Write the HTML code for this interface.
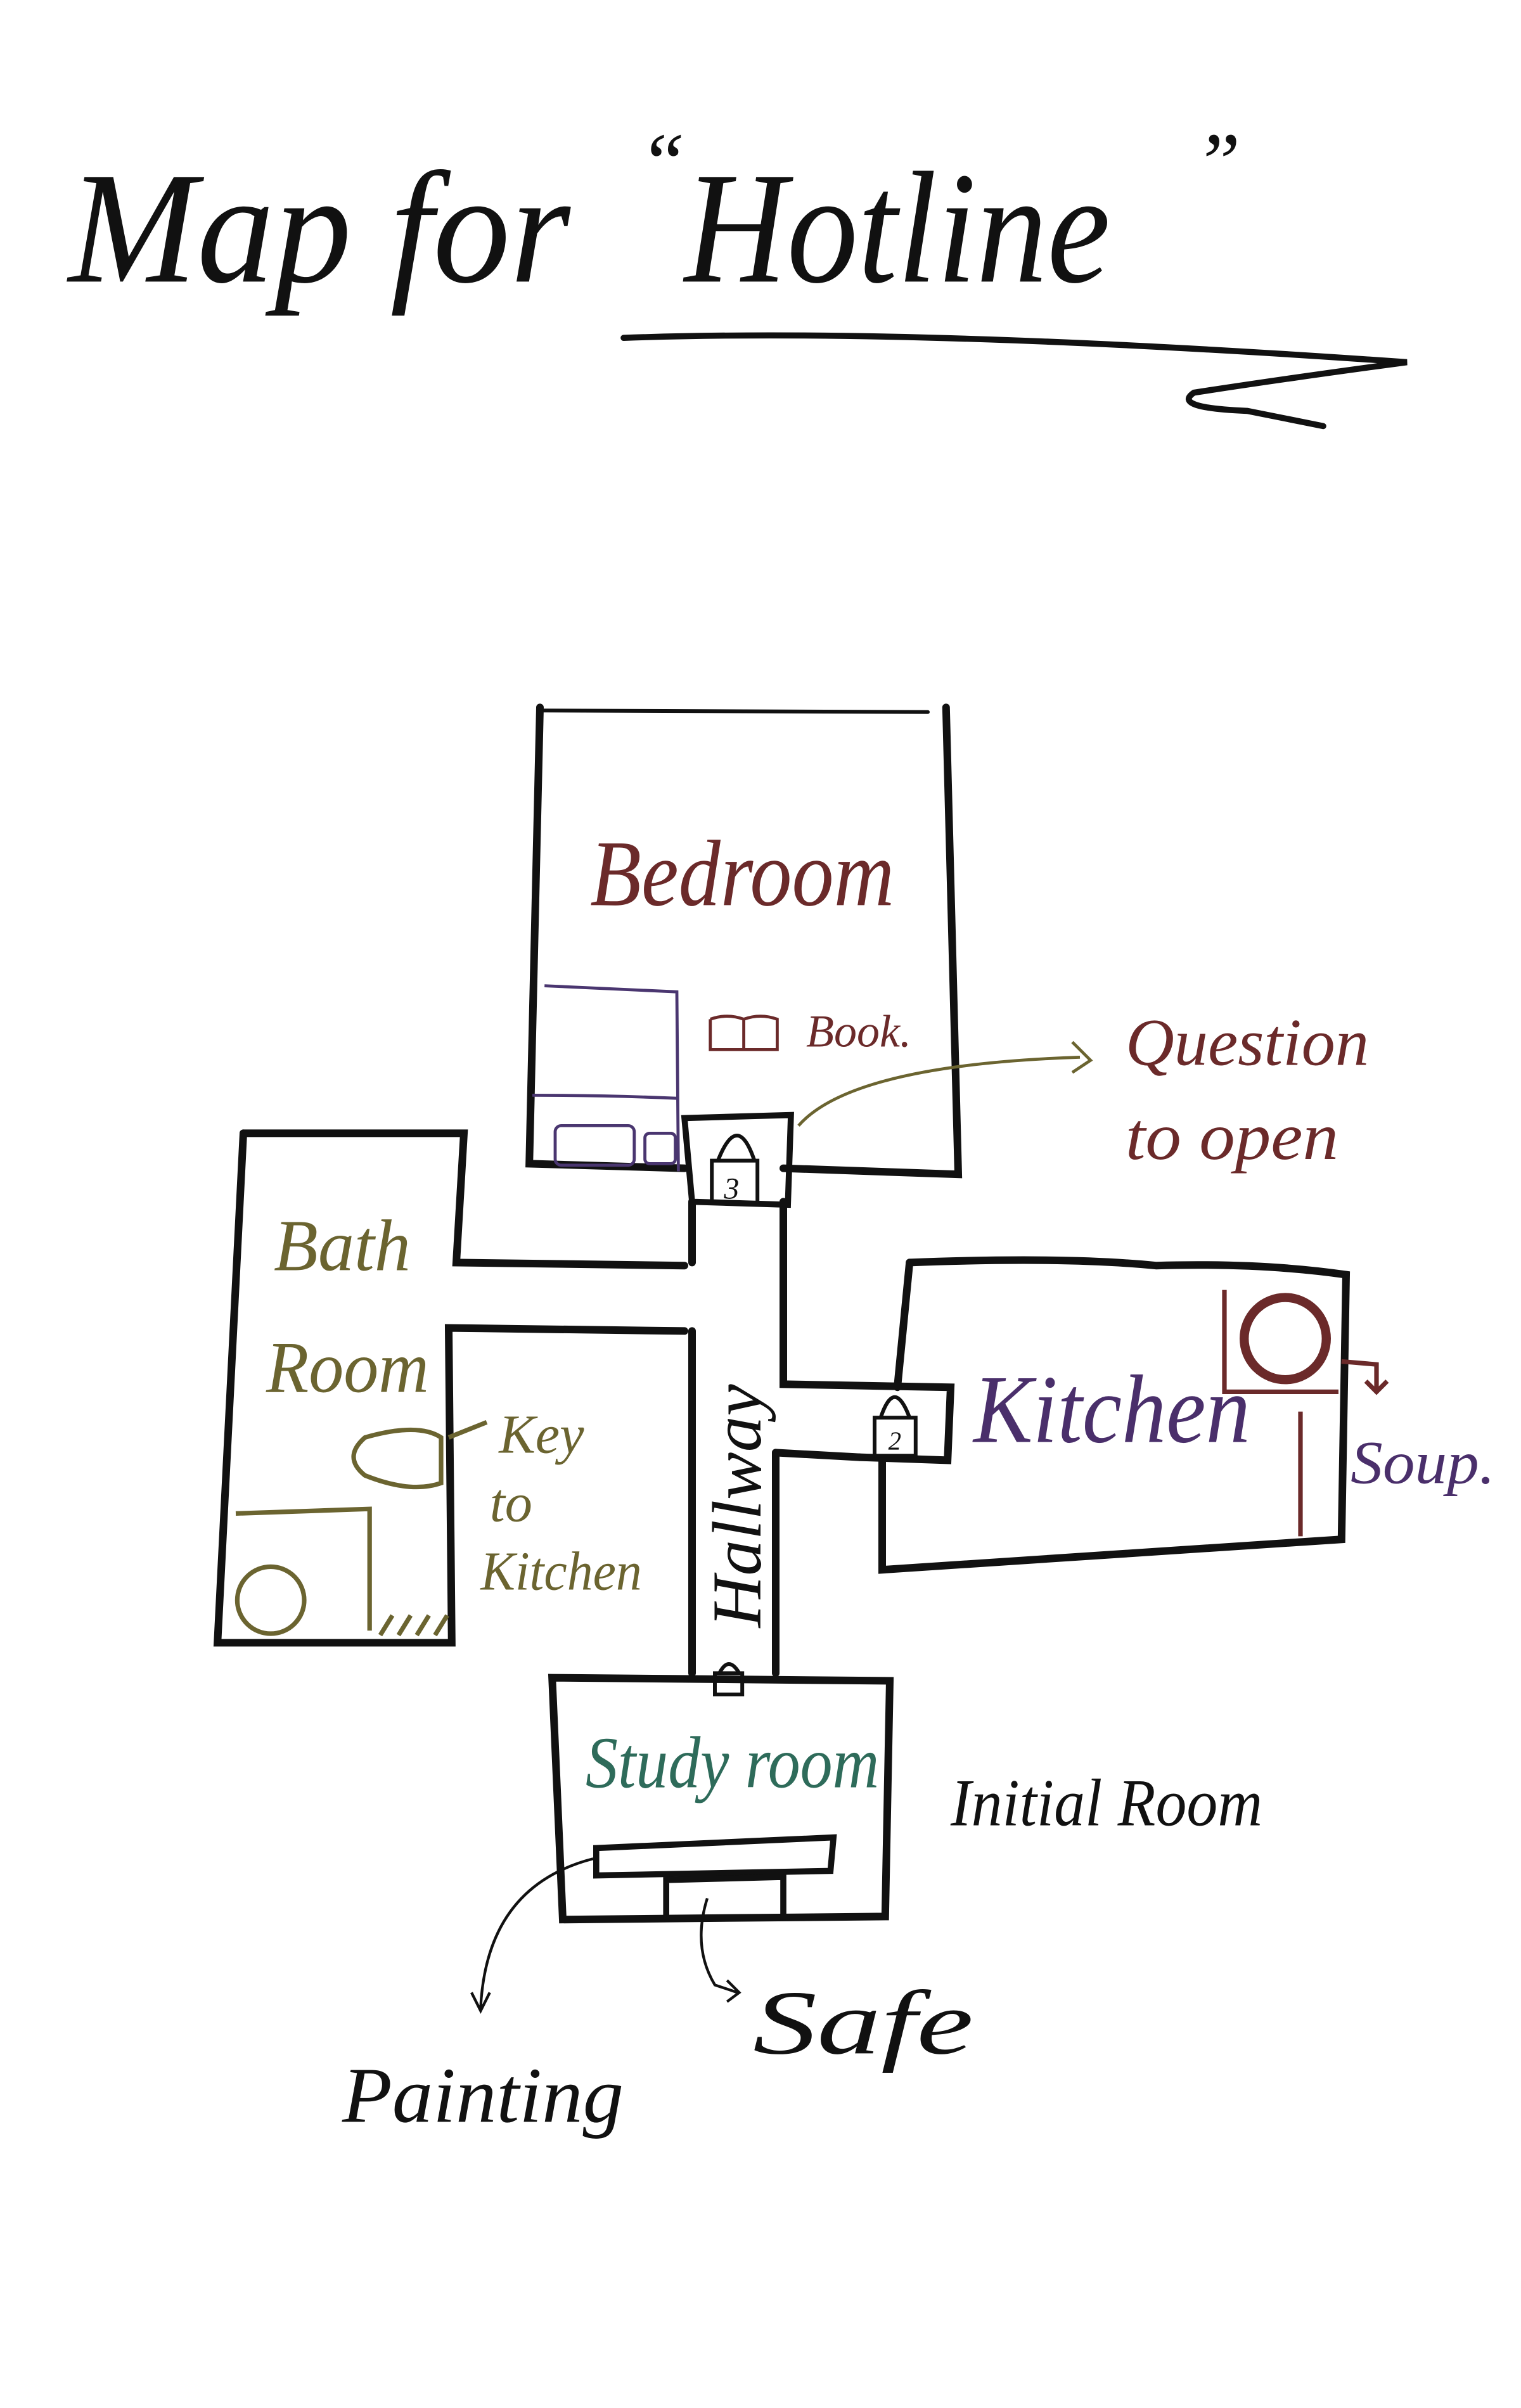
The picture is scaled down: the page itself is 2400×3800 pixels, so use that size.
<!DOCTYPE html>
<html><head><meta charset="utf-8"><style>
html,body{margin:0;padding:0;background:#fff;}
svg{display:block}
text{font-family:"Liberation Serif",serif;font-style:italic}
</style></head><body>
<svg width="2400" height="3800" viewBox="0 0 1000 1583" xmlns="http://www.w3.org/2000/svg">
<rect width="1000" height="1583" fill="#fff"/>
<!-- Title -->
<text x="45" y="185" font-size="105" fill="#111" textLength="330" lengthAdjust="spacingAndGlyphs">Map for</text>
<text x="420" y="125" font-size="55" fill="#111">“</text>
<text x="450" y="185" font-size="105" fill="#111" textLength="280" lengthAdjust="spacingAndGlyphs">Hotline</text>
<text x="785" y="125" font-size="55" fill="#111">”</text>
<path d="M410 222 Q600 215 925 238 Q850 248 785 258 Q770 268 820 270 L870 280" fill="none" stroke="#111" stroke-width="4" stroke-linecap="round"/>

<g fill="none" stroke="#111" stroke-width="5" stroke-linecap="round">
<path d="M357 467 L610 468" stroke-width="2.5"/>
<path d="M355 465 L348 765 L450 768"/>
<path d="M622 465 L630 772 L515 768"/>
<path d="M450 735 L520 733 L518 792 L455 790 Z" stroke-width="4"/>
<path d="M515 790 L515 910 L625 912 L623 960 L565 958"/>
<path d="M455 790 L455 830 M455 875 L455 1100"/>
<path d="M510 955 L510 1100"/>
<path d="M565 958 L510 955"/>
<path d="M160 745 L305 745 L300 830 L450 832"/>
<path d="M160 745 L143 1080 L297 1080 L295 873 L450 875"/>
<path d="M598 830 Q700 826 760 832 Q830 830 885 838 L882 1012 L580 1032 L580 960"/>
<path d="M598 830 L590 912"/>
<path d="M363 1103 L585 1105 L582 1260 L370 1262 Z"/>
</g>
<g fill="none" stroke="#111" stroke-width="2.5">
<rect x="468" y="763" width="30" height="28"/>
<path d="M472 763 Q485 730 496 763"/>
<text x="476" y="788" font-size="20" fill="#111" stroke="none" font-style="normal">3</text>
<rect x="575" y="932" width="27" height="25"/>
<path d="M579 932 Q588 905 598 932"/>
<text x="584" y="953" font-size="17" fill="#111" stroke="none" font-style="normal">2</text>
<rect x="470" y="1100" width="18" height="14"/>
<path d="M473 1100 Q479 1088 486 1100"/>
</g>
<g fill="none" stroke="#4a3670" stroke-width="2">
<path d="M358 648 L445 652 L446 770 M350 720 Q400 720 445 722"/>
<rect x="365" y="740" width="52" height="26" rx="4"/>
<rect x="424" y="745" width="20" height="20" rx="3"/>
</g>
<text x="388" y="595" font-size="62" fill="#6b2a2a" textLength="200" lengthAdjust="spacingAndGlyphs">Bedroom</text>
<path d="M467 670 L467 690 L489 690 L489 670 Q478 666 467 670 M489 670 Q500 666 511 670 L511 690 L489 690" fill="none" stroke="#6b2a2a" stroke-width="2"/>
<text x="530" y="688" font-size="30" fill="#6b2a2a">Book.</text>
<path d="M525 740 Q560 700 710 695" fill="none" stroke="#6b6430" stroke-width="2"/>
<path d="M705 685 L717 697 L705 705" fill="none" stroke="#6b6430" stroke-width="2"/>
<text x="740" y="700" font-size="44" fill="#6b2a2a" textLength="160" lengthAdjust="spacingAndGlyphs">Question</text>
<text x="740" y="762" font-size="44" fill="#6b2a2a" textLength="140" lengthAdjust="spacingAndGlyphs">to open</text>
<text x="180" y="835" font-size="48" fill="#6b6430" textLength="90" lengthAdjust="spacingAndGlyphs">Bath</text>
<text x="175" y="915" font-size="48" fill="#6b6430" textLength="107" lengthAdjust="spacingAndGlyphs">Room</text>
<g fill="none" stroke="#6b6430" stroke-width="3">
<path d="M155 995 L243 992 L243 1072"/>
<circle cx="178" cy="1052" r="22"/>
<path d="M240 945 Q275 935 290 945 L290 975 Q270 982 240 970 Q225 958 240 945Z"/>
<path d="M250 1075 L258 1062 M262 1075 L270 1062 M274 1075 L282 1062 M286 1075 L294 1062"/>
<path d="M295 945 L320 935"/>
</g>
<text x="328" y="955" font-size="36" fill="#6b6430">Key</text>
<text x="322" y="1000" font-size="36" fill="#6b6430">to</text>
<text x="316" y="1045" font-size="36" fill="#6b6430" textLength="106" lengthAdjust="spacingAndGlyphs">Kitchen</text>
<text transform="translate(500 1070) rotate(-90)" font-size="46" fill="#111" textLength="160" lengthAdjust="spacingAndGlyphs">Hallway</text>
<text x="640" y="948" font-size="64" fill="#4a2f6b" textLength="182" lengthAdjust="spacingAndGlyphs">Kitchen</text>
<g fill="none" stroke="#6b2a2a" stroke-width="3">
<path d="M805 848 L805 915 L880 915"/>
<path d="M855 928 L855 1010"/>
<circle cx="845" cy="880" r="27" stroke-width="6"/>
<path d="M882 895 L905 897 L905 915 M898 908 L905 915 L912 908"/>
</g>
<text x="888" y="975" font-size="40" fill="#4a2f6b" textLength="95" lengthAdjust="spacingAndGlyphs">Soup.</text>
<text x="385" y="1175" font-size="48" fill="#2e6b5a" textLength="193" lengthAdjust="spacingAndGlyphs">Study room</text>
<text x="625" y="1200" font-size="44" fill="#111" textLength="205" lengthAdjust="spacingAndGlyphs">Initial Room</text>
<g fill="none" stroke="#111" stroke-width="4">
<path d="M392 1215 L548 1208 L546 1230 L392 1233 Z"/>
<path d="M438 1262 L438 1236 L515 1234 L515 1262"/>
</g>
<g fill="none" stroke="#111" stroke-width="1.8">
<path d="M390 1222 Q320 1240 316 1320 M310 1310 L316 1322 L322 1310"/>
<path d="M465 1248 Q455 1280 470 1305 L485 1310 M478 1302 L486 1310 L478 1316"/>
</g>
<text x="495" y="1350" font-size="60" fill="#111" textLength="145" lengthAdjust="spacingAndGlyphs">Safe</text>
<text x="225" y="1395" font-size="52" fill="#111" textLength="185" lengthAdjust="spacingAndGlyphs">Painting</text>
</svg>
</body></html>
